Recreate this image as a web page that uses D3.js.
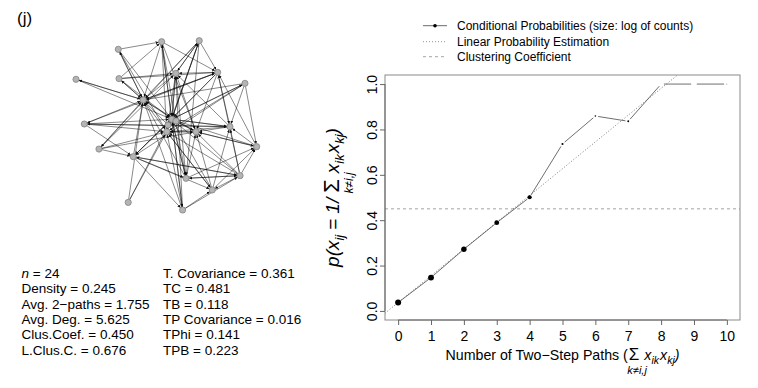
<!DOCTYPE html>
<html><head><meta charset="utf-8">
<script src="https://cdn.jsdelivr.net/npm/d3@7"></script>
<style>
body{margin:0;background:#fff;}
svg{display:block;font-family:"Liberation Sans",Arial,Helvetica,sans-serif;}
</style></head><body>
<svg id="chart" width="758" height="388"></svg>
<script>
// ---- conditional tie probability by number of two-step paths ----
const twoPaths   = [0, 1, 2, 3, 4, 5, 6, 7, 8, 9, 10];
const condProb   = [0.037, 0.147, 0.272, 0.389, 0.501, 0.736, 0.859, 0.836, 1.0, 1.0, 1.0];
const pathCounts = [170, 150, 100, 62, 36, 6, 4, 5, 1, 1, 2];
const linearIntercept = 0.037;
const linearSlope = 0.118;
const clusteringCoef = 0.450;
const xTicks = [0, 1, 2, 3, 4, 5, 6, 7, 8, 9, 10];
const yTicks = [0, 0.2, 0.4, 0.6, 0.8, 1.0];
const legendLabels = ["Conditional Probabilities (size: log of counts)",
                      "Linear Probability Estimation",
                      "Clustering Coefficient"];

// ---- network summary statistics ----
const statsLeftNames  = ["n", "Density", "Avg. 2\u2212paths", "Avg. Deg.", "Clus.Coef.", "L.Clus.C."];
const statsLeftValues = ["24", "0.245", "1.755", "5.625", "0.450", "0.676"];
const statsRightNames  = ["T. Covariance", "TC", "TB", "TP Covariance", "TPhi", "TPB"];
const statsRightValues = ["0.361", "0.481", "0.118", "0.016", "0.141", "0.223"];

// ---- network layout (layout units 0..100) and arcs ----
const nodeX = [47.4, 68.2, 23.4, 55.2, 78.4, 0, 23.8, 93.5, 37.2, 53.0, 4.6, 50.2,
               66.4, 85.2, 12.7, 31.7, 100, 60.9, 90.8, 75.4, 28.9, 59.0, 55.3, 50.9];
const nodeY = [0.6, 0, 5.1, 19.3, 18.7, 22.8, 22.4, 25.2, 35.0, 46.4, 49.2, 53.8,
               53.8, 50.8, 64.0, 68.5, 62.6, 81.3, 79.7, 88.2, 95.5, 100, 47.4, 49.8];
// [from, to, mutual]
const ties = [
 [2,0,0],[2,8,1],[2,9,0],[2,11,0],[6,0,0],[6,3,0],[6,4,0],[6,8,1],[6,9,0],
 [5,8,1],[5,9,0],[0,4,0],[0,8,0],[0,9,1],[0,11,0],[0,17,0],[0,12,0],
 [1,3,1],[1,8,0],[1,9,1],[1,4,0],[1,11,0],[1,17,0],[1,14,0],
 [4,8,1],[4,9,0],[4,10,0],[4,15,0],[4,3,0],[4,12,0],[4,13,0],
 [7,8,0],[7,9,1],[7,15,0],[7,11,0],[7,13,0],[7,16,0],
 [10,13,1],[10,9,0],[10,15,0],[10,8,0],[10,11,0],
 [14,8,0],[14,3,0],[14,12,0],[14,11,0],[14,15,0],
 [15,9,1],[15,8,0],[15,17,0],[15,18,1],[15,21,0],[15,19,0],
 [20,8,0],[20,11,0],[20,9,0],
 [21,9,1],[21,11,0],[21,8,0],[21,19,0],[21,18,0],[21,3,0],
 [17,9,1],[17,8,0],[17,3,0],[17,12,0],[17,18,1],[17,16,0],
 [18,9,0],[18,11,0],[18,12,0],[18,19,0],[18,13,0],[18,16,0],[18,4,0],
 [19,9,0],[19,11,1],[19,13,0],[19,12,0],[19,16,0],
 [16,9,0],[16,12,1],[16,4,0],[16,13,0],
 [13,9,1],[13,11,0],[13,12,0],[13,3,0],
 [12,9,0],[12,11,1],[12,8,0],[12,3,0],
 [11,9,0],[11,8,0],[11,3,0],[3,9,1],[3,8,0],
 [22,9,1],[22,12,0],[22,8,0],[23,9,0],[23,11,0],[23,8,0]
];

const svg = d3.select("#chart");

// panel tag
svg.append("text").attr("x", 17).attr("y", 24).attr("font-size", 17).text("(j)");

// ================= network panel =================
const nx = d3.scaleLinear().domain([0, 100]).range([76, 256.7]);
const ny = d3.scaleLinear().domain([0, 100]).range([40.7, 210]);
const nodeR = 3.1;

svg.append("defs").append("marker")
  .attr("id", "arrow").attr("viewBox", "0 -3 6 6")
  .attr("refX", 6).attr("refY", 0)
  .attr("markerWidth", 3).attr("markerHeight", 3)
  .attr("markerUnits", "userSpaceOnUse").attr("orient", "auto")
  .append("path").attr("d", "M0,-3L6,0L0,3Z").attr("fill", "#111");

const arcs = [];
ties.forEach(([a, b, m]) => {
  arcs.push([a, b]);
  if (m) arcs.push([b, a]);
});

const net = svg.append("g");
net.selectAll("line.arc").data(arcs).join("line")
  .attr("class", "arc")
  .each(function ([a, b]) {
    const x1 = nx(nodeX[a]), y1 = ny(nodeY[a]), x2 = nx(nodeX[b]), y2 = ny(nodeY[b]);
    const d = Math.hypot(x2 - x1, y2 - y1) || 1;
    const ux = (x2 - x1) / d, uy = (y2 - y1) / d;
    d3.select(this)
      .attr("x1", x1 + ux * nodeR).attr("y1", y1 + uy * nodeR)
      .attr("x2", x2 - ux * nodeR).attr("y2", y2 - uy * nodeR);
  })
  .attr("stroke", "#000").attr("stroke-opacity", 0.62).attr("stroke-width", 0.75)
  .attr("marker-end", "url(#arrow)");

net.selectAll("circle").data(nodeX).join("circle")
  .attr("cx", (d) => nx(d)).attr("cy", (d, i) => ny(nodeY[i]))
  .attr("r", nodeR).attr("fill", "#b4b4b4").attr("stroke", "#7a7a7a").attr("stroke-width", 0.7);

// ================= statistics text =================
const statFs = 13.5, statY0 = 278, statDy = 15.35;
const leftCol = svg.append("g").attr("font-size", statFs);
statsLeftNames.forEach((nm, i) => {
  const t = leftCol.append("text").attr("x", 21.5).attr("y", statY0 + i * statDy).attr("xml:space", "preserve");
  t.append("tspan").attr("font-style", i === 0 ? "italic" : "normal").text(nm);
  t.append("tspan").text(" = " + statsLeftValues[i]);
});
const rightCol = svg.append("g").attr("font-size", statFs);
statsRightNames.forEach((nm, i) => {
  const t = rightCol.append("text").attr("x", 163).attr("y", statY0 + i * statDy).attr("xml:space", "preserve");
  t.append("tspan").text(nm);
  t.append("tspan").text(" = " + statsRightValues[i]);
});

// ================= probability plot =================
const box = { l: 385, r: 740, t: 75, b: 320 };
const x = d3.scaleLinear().domain([-0.4, 10.4]).range([box.l, box.r]);
const y = d3.scaleLinear().domain([-0.04, 1.04]).range([box.b, box.t]);

svg.append("clipPath").attr("id", "plotclip")
  .append("rect").attr("x", box.l).attr("y", box.t).attr("width", box.r - box.l).attr("height", box.b - box.t);

const plot = svg.append("g").attr("clip-path", "url(#plotclip)");

// clustering coefficient reference
plot.append("line")
  .attr("x1", box.l).attr("x2", box.r).attr("y1", y(clusteringCoef)).attr("y2", y(clusteringCoef))
  .attr("stroke", "#8c8c8c").attr("stroke-width", 0.8).attr("stroke-dasharray", "3,3");

// linear probability estimate
const xd = x.domain();
plot.append("line")
  .attr("x1", x(xd[0])).attr("y1", y(linearIntercept + linearSlope * xd[0]))
  .attr("x2", x(xd[1])).attr("y2", y(linearIntercept + linearSlope * xd[1]))
  .attr("stroke", "#6e6e6e").attr("stroke-width", 0.9).attr("stroke-dasharray", "1,2");

// conditional probabilities: segments with small gaps at the points
const pts = twoPaths.map((v, i) => [x(v), y(condProb[i])]);
const gap = 2.8;
const segs = d3.pairs(pts).map(([p, q]) => {
  const d = Math.hypot(q[0] - p[0], q[1] - p[1]);
  const ux = (q[0] - p[0]) / d, uy = (q[1] - p[1]) / d;
  return [p[0] + ux * gap, p[1] + uy * gap, q[0] - ux * gap, q[1] - uy * gap];
});
plot.selectAll("line.seg").data(segs).join("line").attr("class", "seg")
  .attr("x1", (s) => s[0]).attr("y1", (s) => s[1]).attr("x2", (s) => s[2]).attr("y2", (s) => s[3])
  .attr("stroke", "#4a4a4a").attr("stroke-width", 0.8);
const rScale = (c) => 1.35 * Math.log10(c);
plot.selectAll("circle.pt").data(twoPaths).join("circle").attr("class", "pt")
  .attr("cx", (d) => x(d)).attr("cy", (d, i) => y(condProb[i]))
  .attr("r", (d, i) => rScale(pathCounts[i]))
  .attr("fill", "#000");

// box
svg.append("rect").attr("x", box.l).attr("y", box.t).attr("width", box.r - box.l).attr("height", box.b - box.t)
  .attr("fill", "none").attr("stroke", "#8a8a8a").attr("stroke-width", 1);

// axes
const xAxis = svg.append("g").attr("transform", `translate(0,${box.b})`)
  .call(d3.axisBottom(x).tickValues(xTicks).tickFormat(d3.format("d")).tickSize(5).tickPadding(6));
const yAxis = svg.append("g").attr("transform", `translate(${box.l},0)`)
  .call(d3.axisLeft(y).tickValues(yTicks).tickFormat(d3.format(".1f")).tickSize(5));
[xAxis, yAxis].forEach((a) => {
  a.select(".domain").attr("stroke", "#666").attr("stroke-width", 1);
  a.selectAll(".tick line").attr("stroke", "#666");
});
xAxis.select(".domain").attr("d", `M${x(xTicks[0])},0H${x(xTicks[xTicks.length - 1])}`);
yAxis.select(".domain").attr("d", `M0,${y(yTicks[0])}V${y(yTicks[yTicks.length - 1])}`);
xAxis.selectAll(".tick text").attr("font-size", 14).attr("fill", "#000")
  .attr("font-family", "Liberation Sans, Arial, sans-serif");
yAxis.selectAll(".tick text").attr("font-size", 14).attr("fill", "#000")
  .attr("font-family", "Liberation Sans, Arial, sans-serif")
  .attr("text-anchor", "middle").attr("x", 0).attr("dy", 0)
  .attr("transform", "translate(-8,0) rotate(-90)");

// ---- math-style axis titles ----
// parts are laid out left to right; a part with "under" gets a centred
// limit line below it that does not take horizontal room
function mathLabel(parent, parts) {
  const inner = parent.append("g");
  let cx = 0;
  parts.forEach((p) => {
    const t = inner.append("text").attr("x", cx).attr("y", p.dy || 0).attr("font-size", p.fs)
      .attr("font-style", p.it ? "italic" : "normal").text(p.t);
    const w = t.node().getComputedTextLength();
    if (p.under) {
      inner.append("text").attr("x", cx + w / 2 + (p.under.dx || 0)).attr("y", p.under.dy)
        .attr("text-anchor", "middle").attr("font-size", p.under.fs)
        .attr("font-style", "italic").text(p.under.t);
    }
    cx += w + (p.gap || 0);
  });
  inner.attr("transform", `translate(${-cx / 2},0)`);
  return parent;
}
const SIGMA = "\u03A3";
mathLabel(svg.append("g").attr("transform", `translate(${(box.l + box.r) / 2},360)`), [
  { t: "Number of Two\u2212Step Paths (", fs: 14.2, gap: 1 },
  { t: SIGMA, fs: 17, under: { t: "k\u2260i,j", fs: 11, dy: 14, dx: 3 }, gap: 5 },
  { t: "x", fs: 14.2, it: true },
  { t: "ik", fs: 10.5, it: true, dy: 4, gap: 1 },
  { t: "x", fs: 14.2, it: true },
  { t: "kj", fs: 10.5, it: true, dy: 4 },
  { t: ")", fs: 14.2, it: true }
]);
mathLabel(svg.append("g").attr("transform", `translate(339,${(box.t + box.b) / 2}) rotate(-90)`), [
  { t: "p(x", fs: 19, it: true },
  { t: "ij", fs: 13, it: true, dy: 5, gap: 5 },
  { t: "=", fs: 19, gap: 5 },
  { t: "1/", fs: 19, it: true, gap: 5 },
  { t: SIGMA, fs: 22, under: { t: "k\u2260i,j", fs: 12, dy: 14, dx: 3 }, gap: 6 },
  { t: "x", fs: 19, it: true },
  { t: "ik", fs: 13, it: true, dy: 5, gap: 1 },
  { t: "x", fs: 19, it: true },
  { t: "kj", fs: 13, it: true, dy: 5 },
  { t: ")", fs: 19, it: true }
]);

// ---- legend ----
const lg = svg.append("g").attr("font-size", 12);
const legY = [25.7, 41.7, 56.7];
const legStyles = [
  { stroke: "#444", dash: null },
  { stroke: "#777", dash: "1,2" },
  { stroke: "#8c8c8c", dash: "3,3" }
];
legendLabels.forEach((lab, i) => {
  lg.append("line").attr("x1", 423).attr("x2", 447).attr("y1", legY[i]).attr("y2", legY[i])
    .attr("stroke", legStyles[i].stroke).attr("stroke-width", 0.8)
    .attr("stroke-dasharray", legStyles[i].dash);
  if (i === 0) lg.append("circle").attr("cx", 435).attr("cy", legY[i]).attr("r", 1.8).attr("fill", "#000");
  lg.append("text").attr("x", 457).attr("y", legY[i]).attr("dy", "0.35em").text(lab);
});
</script>
</body></html>
